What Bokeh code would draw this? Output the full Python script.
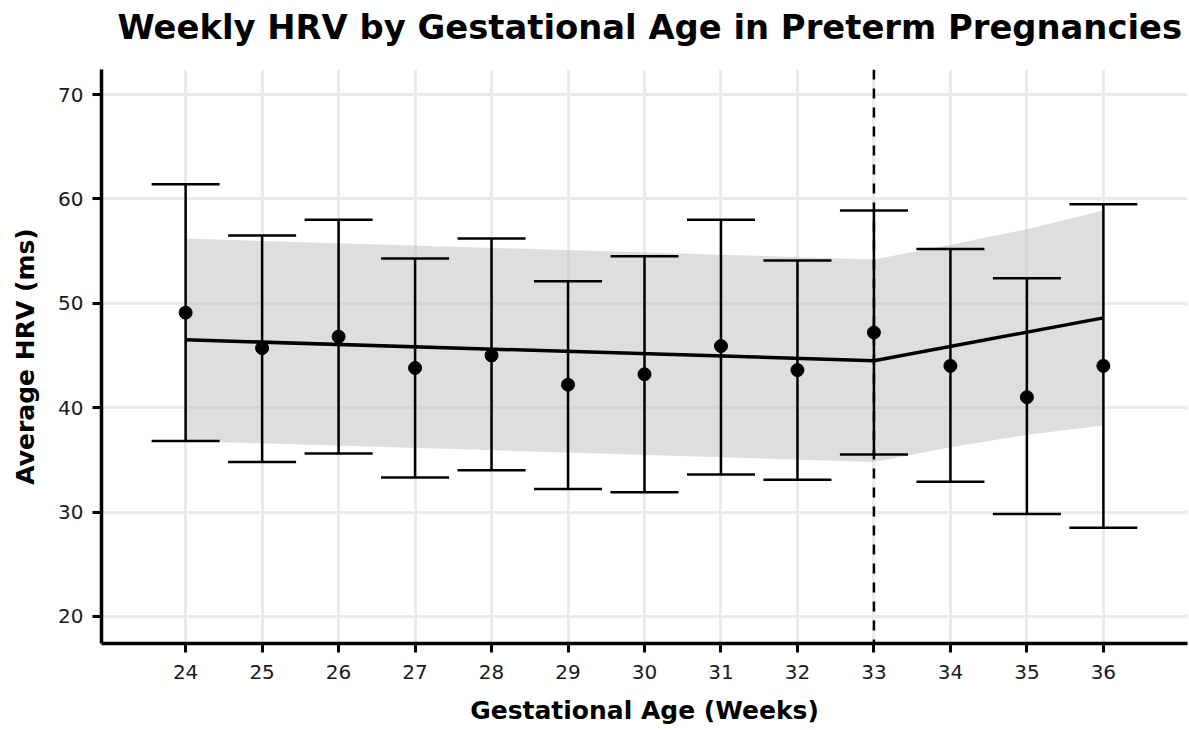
from bokeh.plotting import figure
from bokeh.models import Range1d, FixedTicker, Span, Title, Whisker, TeeHead, ColumnDataSource
from bokeh.embed import file_html
from bokeh.resources import INLINE

# ---- data ----
weeks = [24, 25, 26, 27, 28, 29, 30, 31, 32, 33, 34, 35, 36]
mean_hrv = [49.1, 45.7, 46.8, 43.8, 45.0, 42.2, 43.2, 45.9, 43.6, 47.2, 44.0, 41.0, 44.0]
upper_hrv = [61.4, 56.5, 58.0, 54.3, 56.2, 52.1, 54.5, 58.0, 54.1, 58.9, 55.2, 52.4, 59.5]
lower_hrv = [36.8, 34.8, 35.6, 33.3, 34.0, 32.2, 31.9, 33.6, 33.1, 35.5, 32.9, 29.8, 28.5]

fit_weeks = [24, 33, 36]
fit_hrv = [46.5, 44.5, 48.6]

band_weeks = [24, 33, 34, 35, 36]
band_upper = [56.2, 54.2, 55.6, 57.1, 58.9]
band_lower = [36.8, 34.8, 36.2, 37.4, 38.3]

cutoff_week = 33
y_ticks = [20, 30, 40, 50, 60, 70]

FONT = "DejaVu Sans"
W, H = 1189, 730

p = figure(width=W, height=H, output_backend="svg", toolbar_location=None,
           x_range=Range1d(22.9, 37.1), y_range=Range1d(17.4, 72.4),
           min_border_left=101, min_border_right=2, min_border_top=69, min_border_bottom=87)
p.outline_line_color = None
p.background_fill_color = "white"

# main title (outermost above panel)
p.title.text = "Weekly HRV by Gestational Age in Preterm Pregnancies"
p.title.text_font = FONT
p.title.text_font_size = "33.8px"
p.title.text_font_style = "bold"
p.title.text_color = "black"
p.title.align = "left"
p.title.offset = 16
p.title.standoff = 0

# empty spacer between the title and the frame
p.add_layout(Title(text=" ", text_font_size="1px", standoff=20), "above")

# grid
p.xgrid.ticker = FixedTicker(ticks=weeks)
p.ygrid.ticker = FixedTicker(ticks=y_ticks)
for g in (p.xgrid, p.ygrid):
    g.grid_line_color = "#ebebeb"
    g.grid_line_width = 3

# axes
p.xaxis.ticker = FixedTicker(ticks=weeks)
p.yaxis.ticker = FixedTicker(ticks=y_ticks)
p.xaxis.axis_label = "Gestational Age (Weeks)"
p.yaxis.axis_label = "Average HRV (ms)"
for ax in (p.xaxis, p.yaxis):
    ax.axis_line_width = 3.5
    ax.axis_line_color = "black"
    ax.major_tick_line_width = 3
    ax.major_tick_line_color = "black"
    ax.major_tick_out = 9
    ax.major_tick_in = 0
    ax.minor_tick_line_color = None
    ax.major_label_text_font = FONT
    ax.major_label_text_font_size = "20px"
    ax.major_label_text_color = "#1a1a1a"
    ax.axis_label_text_font = FONT
    ax.axis_label_text_font_size = "25px"
    ax.axis_label_text_font_style = "bold"
    ax.axis_label_text_color = "black"
p.xaxis.major_label_standoff = 12
p.yaxis.major_label_standoff = 9
p.xaxis.axis_label_standoff = 14
p.yaxis.axis_label_standoff = 15

# confidence band
p.varea(x=band_weeks, y1=band_lower, y2=band_upper, fill_color="#bdbdbd", fill_alpha=0.5)

# fitted line
p.line(fit_weeks, fit_hrv, line_color="black", line_width=3.5)

# error bars
src = ColumnDataSource(dict(x=weeks, y=mean_hrv, up=upper_hrv, lo=lower_hrv))
w = Whisker(source=src, base="x", upper="up", lower="lo", dimension="height",
            line_color="black", line_width=2.5, level="annotation",
            upper_head=TeeHead(size=68, line_color="black", line_width=2.5),
            lower_head=TeeHead(size=68, line_color="black", line_width=2.5))
p.add_layout(w)

p.scatter("x", "y", source=src, size=13, fill_color="black", line_color="black")

# cutoff line
p.add_layout(Span(location=cutoff_week, dimension="height", line_color="black",
                  line_width=2.5, line_dash="10 9"))

open("out.html", "w").write(file_html(p, INLINE))
